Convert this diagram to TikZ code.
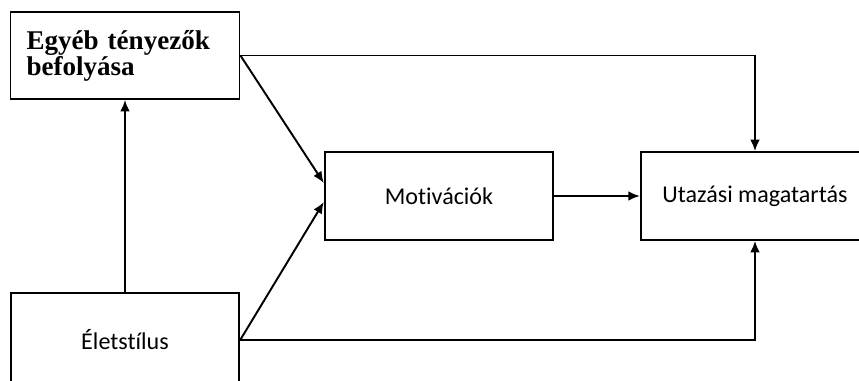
\documentclass[tikz,border=0pt]{standalone}
\usepackage{fontspec}
\setmainfont{Liberation Serif}
\newfontfamily\bodyfont[Ligatures={NoCommon}]{Carlito}
\usepackage{tikz}
\usetikzlibrary{arrows.meta,positioning,calc}

\begin{document}
\begin{tikzpicture}[
        x=0.02cm, y=-0.02cm,
        box/.style={draw=black, line width=1.1pt, minimum width=4.57cm,
            minimum height=1.76cm, inner sep=0pt,
            font=\bodyfont\fontsize{13.7}{16}\selectfont},
        headbox/.style={box, minimum height=1.74cm, align=left,
            text width=3.94cm, inner xsep=0.32cm,
            font=\fontsize{15.4}{14.8}\selectfont\bfseries},
        link/.style={black, line width=1.1pt, line join=miter,
            -{Latex[length=6.5pt,width=5.5pt]}},
    ]
    \path[use as bounding box, clip] (0,0) rectangle (859,381);
    % boxes
    \node[headbox] (ef) at (125,55.5) {Egyéb tényezők\\befolyása};
    \node[box, minimum height=1.88cm] (el) at (125,340) {Életstílus};
    \node[box] (mo) at (439,196) {Motivációk};
    \node[box] (ut) at (755,196) {Utazási magatartás};
    % arrows
    \draw[link] (el.north) -- (ef.south);
    \draw[link] (ef.east) -- ([yshift=0.26cm]mo.west);
    \draw[link] (el.east) -- ([yshift=-0.12cm]mo.west);
    \draw[link] (mo.east) -- (ut.west);
    \draw[link] (ef.east) -| (ut.north);
    \draw[link] (el.east) -| (ut.south);
\end{tikzpicture}
\end{document}
